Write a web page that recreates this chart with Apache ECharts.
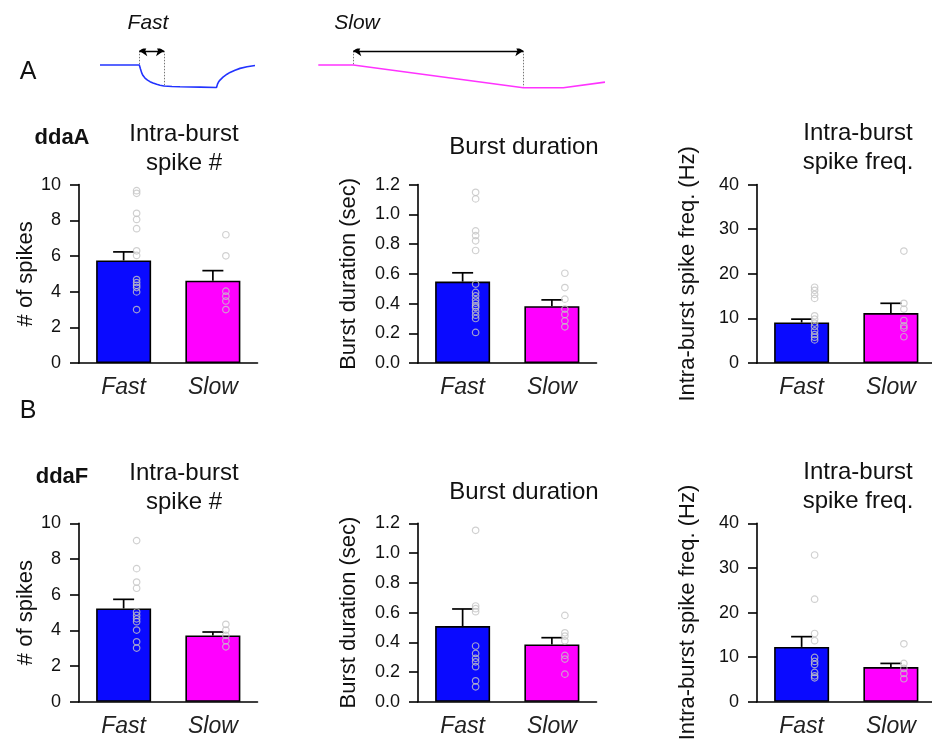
<!DOCTYPE html>
<html>
<head>
<meta charset="utf-8">
<script src="https://cdn.jsdelivr.net/npm/echarts@6/dist/echarts.min.js"></script>
<style>
html,body{margin:0;padding:0;background:#fff;}
#chart{width:932px;height:742px;}
</style>
</head>
<body>
<div id="chart"></div>
<script>
// ---------- data ----------
const categories = ['Fast', 'Slow'];

// schematic traces (time units, relative level)
const fastTrace = [[0,1],[39.3,1],[40.5,0.82],[41.7,0.65],[43,0.53],[45,0.42],[47.5,0.33],[50,0.26],[53,0.2],[56.7,0.14],[60,0.1],[64,0.07],[72,0.045],[80,0.03],[100,0.015],[116.5,0],
  [117.5,0.15],[118.5,0.24],[120,0.33],[121.5,0.4],[123,0.46],[125,0.53],[127,0.59],[130,0.67],[135,0.77],[140,0.85],[147,0.92],[155,0.98]];
const slowTrace = [[218.3,1],[253.3,1],[423.3,-0.01],[463.3,-0.01],[505,0.24]];
const fastWindow = [39.3, 64];
const slowWindow = [253.3, 423.3];

// ddaA
const spikeA_mean = [5.75, 4.62];
const spikeA_err = [6.23, 5.18];
const spikeA_fast = [9.66, 9.51, 8.39, 8.05, 7.53, 6.29, 6.03, 4.68, 4.51, 4.36, 4.23, 3.99, 3.0];
const spikeA_slow = [7.19, 6.01, 4.03, 3.75, 3.48, 3.0];

const durA_mean = [0.548, 0.383];
const durA_err = [0.607, 0.425];
const durA_fast = [1.148, 1.104, 0.889, 0.857, 0.822, 0.757, 0.531, 0.475, 0.452, 0.425, 0.403, 0.385, 0.374, 0.347, 0.322, 0.30, 0.206];
const durA_slow = [0.604, 0.508, 0.430, 0.363, 0.327, 0.284, 0.244];

const freqA_mean = [9.1, 11.2];
const freqA_err = [9.85, 13.4];
const freqA_fast = [17.0, 16.3, 15.4, 14.5, 10.6, 9.85, 8.96, 8.2, 7.2, 6.4, 5.8, 5.2];
const freqA_slow = [25.1, 13.4, 12.1, 9.55, 8.36, 7.84, 5.9];

// ddaF
const spikeB_mean = [5.23, 3.72];
const spikeB_err = [5.74, 3.91];
const spikeB_fast = [9.03, 7.46, 6.71, 6.36, 5.03, 4.84, 4.65, 4.49, 4.02, 3.36, 3.01];
const spikeB_slow = [4.34, 4.02, 3.72, 3.42, 3.08];

const durB_mean = [0.509, 0.386];
const durB_err = [0.624, 0.431];
const durB_fast = [1.153, 0.644, 0.626, 0.606, 0.375, 0.325, 0.292, 0.269, 0.236, 0.141, 0.101];
const durB_slow = [0.581, 0.464, 0.442, 0.41, 0.312, 0.287, 0.186];

const freqB_mean = [12.3, 7.78];
const freqB_err = [14.6, 8.6];
const freqB_fast = [32.9, 23.0, 15.3, 13.7, 9.94, 9.05, 8.37, 6.58, 5.83, 5.38];
const freqB_slow = [13.0, 8.6, 7.48, 6.36, 5.16];

// axis settings
const spikeTicks = {min: 0, max: 10, interval: 2, digits: 0};
const durTicks = {min: 0, max: 1.2, interval: 0.2, digits: 1};
const freqTicks = {min: 0, max: 40, interval: 10, digits: 0};

// ---------- build ----------
const FONT = 'Liberation Sans, Arial, sans-serif';
const BLUE = '#0a0aff', MAGENTA = '#ff00ff';
const grids = [], xAxes = [], yAxes = [], series = [];

const panels = [
  {left: 79, top: 184.6, name: '# of spikes', gap: 41, ticks: spikeTicks, mean: spikeA_mean, err: spikeA_err, fast: spikeA_fast, slow: spikeA_slow},
  {left: 418, top: 184.6, name: 'Burst duration (sec)', gap: 58, ticks: durTicks, mean: durA_mean, err: durA_err, fast: durA_fast, slow: durA_slow},
  {left: 757, top: 184.6, name: 'Intra-burst spike freq. (Hz)', gap: 58, ticks: freqTicks, mean: freqA_mean, err: freqA_err, fast: freqA_fast, slow: freqA_slow},
  {left: 79, top: 523.3, name: '# of spikes', gap: 41, ticks: spikeTicks, mean: spikeB_mean, err: spikeB_err, fast: spikeB_fast, slow: spikeB_slow},
  {left: 418, top: 523.3, name: 'Burst duration (sec)', gap: 58, ticks: durTicks, mean: durB_mean, err: durB_err, fast: durB_fast, slow: durB_slow},
  {left: 757, top: 523.3, name: 'Intra-burst spike freq. (Hz)', gap: 58, ticks: freqTicks, mean: freqB_mean, err: freqB_err, fast: freqB_fast, slow: freqB_slow}
];

panels.forEach((p, i) => {
  grids.push({left: p.left, top: p.top, width: 178.5, height: 178.5, containLabel: false, outerBoundsMode: 'none'});
  xAxes.push({
    type: 'category', gridIndex: i, data: categories,
    axisLine: {lineStyle: {color: '#000', width: 1.6}},
    axisTick: {show: false},
    axisLabel: {fontFamily: FONT, fontSize: 23, fontStyle: 'italic', color: '#222', margin: 13}
  });
  const d = p.ticks.digits;
  yAxes.push({
    type: 'value', gridIndex: i, min: p.ticks.min, max: p.ticks.max, interval: p.ticks.interval,
    name: p.name, nameLocation: 'middle', nameGap: p.gap,
    nameTextStyle: {fontFamily: FONT, fontSize: 22, color: '#111'},
    axisLine: {show: true, lineStyle: {color: '#000', width: 1.6}},
    axisTick: {show: true, length: 9, lineStyle: {color: '#000', width: 1.6}},
    axisLabel: {fontFamily: FONT, fontSize: 18, color: '#111', margin: 18, formatter: v => v.toFixed(d)},
    splitLine: {show: false}
  });
  series.push({
    type: 'bar', xAxisIndex: i, yAxisIndex: i, barWidth: 55, z: 2,
    data: p.mean.map((v, k) => ({value: v, itemStyle: {color: k === 0 ? BLUE : MAGENTA}})),
    itemStyle: {borderColor: '#000', borderWidth: 1.6}
  });
  series.push({
    type: 'custom', xAxisIndex: i, yAxisIndex: i, z: 3,
    data: p.mean.map((v, k) => [k, v, p.err[k]]),
    renderItem: (params, api) => {
      const b = api.coord([api.value(0), api.value(1)]);
      const t = api.coord([api.value(0), api.value(2)]);
      const style = {stroke: '#000', lineWidth: 1.7};
      return {type: 'group', children: [
        {type: 'line', shape: {x1: b[0], y1: b[1], x2: t[0], y2: t[1]}, style},
        {type: 'line', shape: {x1: t[0] - 10.5, y1: t[1], x2: t[0] + 10.5, y2: t[1]}, style}
      ]};
    }
  });
  [['Fast', p.fast], ['Slow', p.slow]].forEach(([c, arr]) => {
    series.push({
      type: 'scatter', xAxisIndex: i, yAxisIndex: i, z: 4,
      symbol: 'circle', symbolSize: 6.5, symbolOffset: [13, 0],
      itemStyle: {color: 'rgba(0,0,0,0)', borderColor: '#c4c4c4', borderWidth: 1.2},
      data: arr.map(v => [c, v])
    });
  });
});

// trace grid
const tg = panels.length;
grids.push({left: 100, top: 49.25, width: 505, height: 40.5, containLabel: false, outerBoundsMode: 'none'});
xAxes.push({type: 'value', gridIndex: tg, min: 0, max: 505, show: false});
yAxes.push({type: 'value', gridIndex: tg, min: -0.1, max: 1.7, show: false});
series.push({type: 'line', xAxisIndex: tg, yAxisIndex: tg, data: fastTrace, showSymbol: false, symbol: 'none',
  lineStyle: {color: '#2233ff', width: 1.6}});
series.push({type: 'line', xAxisIndex: tg, yAxisIndex: tg, data: slowTrace, showSymbol: false, symbol: 'none',
  lineStyle: {color: '#ff33ff', width: 1.6}});
series.push({type: 'lines', coordinateSystem: 'cartesian2d', xAxisIndex: tg, yAxisIndex: tg,
  lineStyle: {color: '#777', width: 1, type: [1.5, 1.5], opacity: 1}, symbol: 'none',
  data: [
    {coords: [[fastWindow[0], 1.63], [fastWindow[0], 1]]},
    {coords: [[fastWindow[1], 1.63], [fastWindow[1], 0.03]]},
    {coords: [[slowWindow[0], 1.63], [slowWindow[0], 1]]},
    {coords: [[slowWindow[1], 1.63], [slowWindow[1], -0.01]]}
  ]});
series.push({type: 'lines', coordinateSystem: 'cartesian2d', xAxisIndex: tg, yAxisIndex: tg,
  lineStyle: {color: '#000', width: 1.3, opacity: 1}, symbol: ['arrow', 'arrow'], symbolSize: 8,
  data: [
    {coords: [[fastWindow[0], 1.63], [fastWindow[1], 1.63]]},
    {coords: [[slowWindow[0], 1.63], [slowWindow[1], 1.63]]}
  ]});

// texts
function txt(x, y, text, size, opts) {
  return Object.assign({type: 'text', x, y, style: Object.assign({
    text, fontFamily: FONT, fontSize: size, fill: '#111', textAlign: 'center', textVerticalAlign: 'middle', lineHeight: 29
  }, opts || {})});
}
const graphics = [
  txt(148, 23, 'Fast', 21, {fontStyle: 'italic'}),
  txt(357, 23, 'Slow', 21, {fontStyle: 'italic'}),
  txt(28, 72, 'A', 25),
  txt(28, 411, 'B', 25),
  txt(62, 138, 'ddaA', 22, {fontWeight: 'bold'}),
  txt(62, 477, 'ddaF', 22, {fontWeight: 'bold'}),
  txt(184, 148.5, 'Intra-burst\nspike #', 24),
  txt(524, 147, 'Burst duration', 24),
  txt(858, 148, 'Intra-burst\nspike freq.', 24),
  txt(184, 487.5, 'Intra-burst\nspike #', 24),
  txt(524, 492, 'Burst duration', 24),
  txt(858, 487, 'Intra-burst\nspike freq.', 24)
];

const chart = echarts.init(document.getElementById('chart'), null, {renderer: 'canvas'});
chart.setOption({
  animation: false,
  backgroundColor: '#fff',
  grid: grids, xAxis: xAxes, yAxis: yAxes, series,
  graphic: graphics
});
</script>
</body>
</html>
